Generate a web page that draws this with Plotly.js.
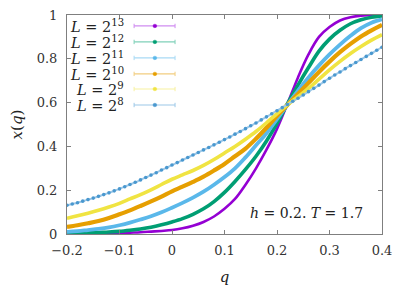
<!DOCTYPE html>
<html>
<head>
<meta charset="utf-8">
<script src="https://cdn.plot.ly/plotly-3.0.1.min.js"></script>
<style>html,body{margin:0;padding:0;background:#fff;}#chart{width:411px;height:286px;}</style>
</head>
<body>
<div id="chart"></div>
<script>
// q grid for the larger systems (step 0.02)
const qCoarse = [-0.20,-0.18,-0.16,-0.14,-0.12,-0.10,-0.08,-0.06,-0.04,-0.02,
  0.00,0.02,0.04,0.06,0.08,0.10,0.12,0.14,0.16,0.18,
  0.20,0.22,0.24,0.26,0.28,0.30,0.32,0.34,0.36,0.38,0.40];
// q grid for L = 2^8 (step 0.01)
const qFine = [-0.20,-0.19,-0.18,-0.17,-0.16,-0.15,-0.14,-0.13,-0.12,-0.11,
  -0.10,-0.09,-0.08,-0.07,-0.06,-0.05,-0.04,-0.03,-0.02,-0.01,
  0.00,0.01,0.02,0.03,0.04,0.05,0.06,0.07,0.08,0.09,
  0.10,0.11,0.12,0.13,0.14,0.15,0.16,0.17,0.18,0.19,
  0.20,0.21,0.22,0.23,0.24,0.25,0.26,0.27,0.28,0.29,
  0.30,0.31,0.32,0.33,0.34,0.35,0.36,0.37,0.38,0.39,0.40];

const x_L13 = [0.001,0.001,0.002,0.002,0.003,0.004,0.006,0.008,0.011,0.014,
  0.018,0.026,0.038,0.055,0.080,0.115,0.160,0.225,0.300,0.385,
  0.480,0.595,0.715,0.820,0.900,0.945,0.975,0.990,0.997,0.999,1.000];
const x_L12 = [0.003,0.004,0.005,0.007,0.009,0.012,0.017,0.023,0.031,0.042,
  0.055,0.070,0.090,0.115,0.148,0.190,0.240,0.295,0.355,0.425,
  0.505,0.595,0.680,0.760,0.835,0.890,0.930,0.960,0.978,0.990,0.996];
const x_L11 = [0.010,0.013,0.018,0.023,0.030,0.040,0.052,0.066,0.081,0.099,
  0.120,0.142,0.166,0.193,0.225,0.260,0.300,0.350,0.405,0.460,
  0.525,0.590,0.655,0.715,0.770,0.820,0.865,0.905,0.940,0.965,0.980];
const x_L10 = [0.032,0.040,0.049,0.059,0.073,0.090,0.108,0.128,0.149,0.171,
  0.195,0.216,0.238,0.262,0.290,0.320,0.355,0.390,0.435,0.485,
  0.540,0.590,0.640,0.690,0.740,0.787,0.830,0.868,0.902,0.930,0.955];
const x_L9 = [0.072,0.083,0.095,0.108,0.123,0.140,0.160,0.180,0.202,0.226,
  0.250,0.270,0.290,0.313,0.340,0.370,0.400,0.433,0.468,0.508,
  0.550,0.590,0.627,0.665,0.707,0.749,0.788,0.824,0.856,0.885,0.910];
const x_L8 = [0.131,0.137,0.143,0.150,0.157,0.164,0.172,0.180,0.188,0.197,
  0.206,0.216,0.226,0.236,0.247,0.258,0.269,0.280,0.292,0.303,
  0.315,0.326,0.338,0.349,0.361,0.372,0.384,0.395,0.407,0.419,
  0.431,0.443,0.456,0.468,0.481,0.494,0.507,0.521,0.535,0.549,
  0.563,0.577,0.591,0.606,0.620,0.635,0.650,0.665,0.680,0.696,
  0.711,0.726,0.740,0.755,0.769,0.783,0.797,0.811,0.825,0.839,0.853];

const seriesNames = ['2<sup>13</sup>','2<sup>12</sup>','2<sup>11</sup>','2<sup>10</sup>','2<sup>9</sup>','2<sup>8</sup>'];
const tickValsX = [-0.2,-0.1,0,0.1,0.2,0.3,0.4];
const tickTextX = ['−0.2','−0.1','0','0.1','0.2','0.3','0.4'];
const tickValsY = [0,0.2,0.4,0.6,0.8,1];
const tickTextY = ['0','0.2','0.4','0.6','0.8','1'];

const colors = ['#9400d3','#009e73','#5ab8ea','#e69f00','#f0e442','#4a98cf'];
const lightColors = ['#cf8cf0','#7fd0b8','#a8daf5','#f2cd7f','#f7f1a0','#9cc8e8'];
const widths = [2.6,3.6,3.8,4.2,3.6,2];
const xs = [qCoarse,qCoarse,qCoarse,qCoarse,qCoarse,qFine];
const ys = [x_L13,x_L12,x_L11,x_L10,x_L9,x_L8];

const traces = ys.map((y,i)=>{
  const t = {x: xs[i], y: y, type:'scatter', showlegend:false, hoverinfo:'skip',
    line:{color: i===5 ? lightColors[5] : colors[i], width: widths[i], shape:'spline', smoothing:1}};
  if (i===5) { t.mode='lines+markers'; t.marker={size:3.6,color:colors[5]}; }
  else t.mode='lines';
  return t;
});

const font = "DejaVu Serif";
const annotations = [];
const shapes = [];
const rowY = [0.950,0.877,0.804,0.731,0.662,0.589];
const x0=0.213, x1=0.343, xm=0.279;
seriesNames.forEach((n,i)=>{
  annotations.push({xref:'paper',yref:'paper',x:0.186,y:rowY[i],xanchor:'right',yanchor:'middle',
    showarrow:false,text:'<i>L</i> = '+n,font:{family:font,size:14.5,color:'#222'}});
  shapes.push({type:'line',xref:'paper',yref:'paper',x0:x0,x1:x1,y0:rowY[i],y1:rowY[i],line:{color:lightColors[i],width:1.2}});
  shapes.push({type:'line',xref:'paper',yref:'paper',x0:x0,x1:x0,y0:rowY[i]-0.01,y1:rowY[i]+0.01,line:{color:lightColors[i],width:1}});
  shapes.push({type:'line',xref:'paper',yref:'paper',x0:x1,x1:x1,y0:rowY[i]-0.01,y1:rowY[i]+0.01,line:{color:lightColors[i],width:1}});
  shapes.push({type:'circle',xref:'paper',yref:'paper',x0:xm-0.006,x1:xm+0.006,y0:rowY[i]-0.008,y1:rowY[i]+0.008,
    fillcolor:colors[i],line:{color:colors[i],width:0.5}});
});
annotations.push({xref:'paper',yref:'paper',x:0.76,y:0.096,xanchor:'center',yanchor:'middle',showarrow:false,
  text:'<i>h</i> = 0.2. <i>T</i> = 1.7',font:{family:font,size:14,color:'#222'}});

const axisCommon = {showgrid:false, zeroline:false, showline:true, mirror:'allticks', linecolor:'#7f7f7f', linewidth:1,
  ticks:'inside', ticklen:4, tickcolor:'#7f7f7f', tickfont:{family:font,size:13,color:'#333'}};

const layout = {
  width:411, height:286, margin:{l:67,r:29,t:15,b:52},
  font:{family:font},
  paper_bgcolor:'#fff', plot_bgcolor:'#fff',
  xaxis: Object.assign({}, axisCommon, {range:[-0.2,0.4], tickvals:tickValsX, ticktext:tickTextX, ticklabelstandoff:4,
    title:{text:'<i>q</i>', font:{family:font,size:15,color:'#222'}, standoff:17}}),
  yaxis: Object.assign({}, axisCommon, {range:[0,1], tickvals:tickValsY, ticktext:tickTextY, ticklabelstandoff:6,
    title:{text:'<i>x</i>(<i>q</i>)', font:{family:font,size:15,color:'#222'}, standoff:10}}),
  annotations: annotations, shapes: shapes, showlegend:false
};
Plotly.newPlot('chart', traces, layout, {staticPlot:true, displayModeBar:false});
</script>
</body>
</html>
